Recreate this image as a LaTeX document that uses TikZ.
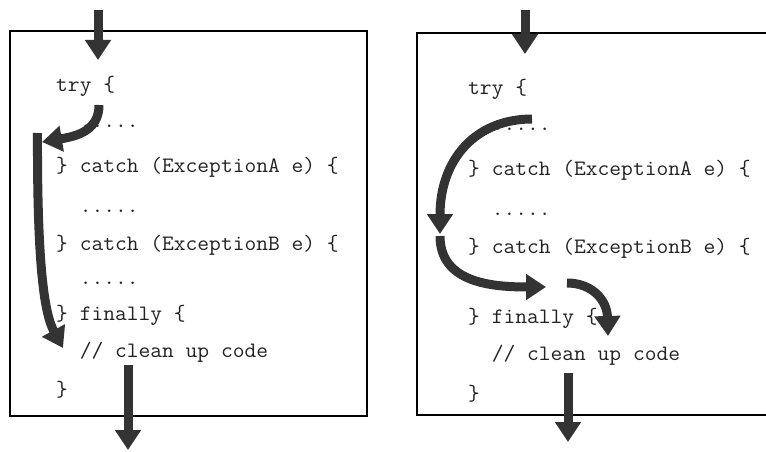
\documentclass[tikz,border=0pt]{standalone}
\usepackage{fontspec}
\usetikzlibrary{arrows.meta}
\definecolor{flow}{HTML}{333333}
\definecolor{ink}{HTML}{222222}
\begin{document}
\begin{tikzpicture}[x=1pt,y=-1pt,
  code/.style={anchor=base west, inner sep=0pt, xscale=1.039,
    font=\ttfamily\fontsize{22}{26}\selectfont, text=ink},
  frame/.style={draw=black, line width=2.2pt},
  flowarrow/.style={draw=flow, line width=9pt,
    -{Triangle[width=25pt,length=20pt]}}]
\useasboundingbox (0,0) rectangle (766,452);

% ---- left block: exception thrown in try, caught by neither handler ----
\draw[frame] (10,31) rectangle (367,416);
\node[code] (tryL)   at (56,92)  {try \{};
\node[code] (bodyL)  at (56,128) {\ \ .....};
\node[code] (catAL)  at (56,172) {\} catch (ExceptionA e) \{};
\node[code] (dotAL)  at (56,212) {\ \ .....};
\node[code] (catBL)  at (56,250) {\} catch (ExceptionB e) \{};
\node[code] (dotBL)  at (56,284) {\ \ .....};
\node[code] (finL)   at (56,320) {\} finally \{};
\node[code] (cleanL) at (56,357) {\ \ // clean up code};
\node[code] (endL)   at (56,396) {\}};

\coordinate (inL)     at (98,10);
\coordinate (inLtip)  at (98,60);
\coordinate (thrL)    at (99,105);
\coordinate (thrLtip) at (42,142);
\coordinate (skipL)   at (37.5,133);
\coordinate (skipLtip) at (63,348);
\coordinate (outL)    at (128,365);
\coordinate (outLtip) at (128,450);

\draw[flowarrow] (inL) -- (inLtip);
\draw[flowarrow] (thrL) .. controls (99,130) and (78,136) .. (thrLtip);
\draw[flowarrow] (skipL) .. controls (37,270) and (45,315) .. (skipLtip);
\draw[flowarrow] (outL) -- (outLtip);

% ---- right block: exception caught by the second handler ----
\draw[frame] (766,33) -- (417,33) -- (417,415) -- (766,415);
\node[code] (tryR)   at (468,95)  {try \{};
\node[code] (bodyR)  at (468,130) {\ \ .....};
\node[code] (catAR)  at (468,175) {\} catch (ExceptionA e) \{};
\node[code] (dotAR)  at (468,215) {\ \ .....};
\node[code] (catBR)  at (468,253) {\} catch (ExceptionB e) \{};
\node[code] (finR)   at (468,323) {\} finally \{};
\node[code] (cleanR) at (468,360) {\ \ // clean up code};
\node[code] (endR)   at (468,400) {\}};

\coordinate (inR)      at (525,10);
\coordinate (inRtip)   at (525,54);
\coordinate (thrR)     at (532,119);
\coordinate (thrRtip)  at (440,234);
\coordinate (hdlR)     at (440,236);
\coordinate (hdlRtip)  at (546,287);
\coordinate (finRs)    at (567,283);
\coordinate (finRtip)  at (608,336);
\coordinate (outR)     at (568,373);
\coordinate (outRtip)  at (568,442);

\draw[flowarrow] (inR) -- (inRtip);
\draw[flowarrow] (thrR) .. controls (475,119) and (440,160) .. (thrRtip);
\draw[flowarrow] (hdlR) .. controls (440,282) and (490,287) .. (hdlRtip);
\draw[flowarrow] (finRs) .. controls (592,283) and (607,300) .. (finRtip);
\draw[flowarrow] (outR) -- (outRtip);
\end{tikzpicture}
\end{document}
